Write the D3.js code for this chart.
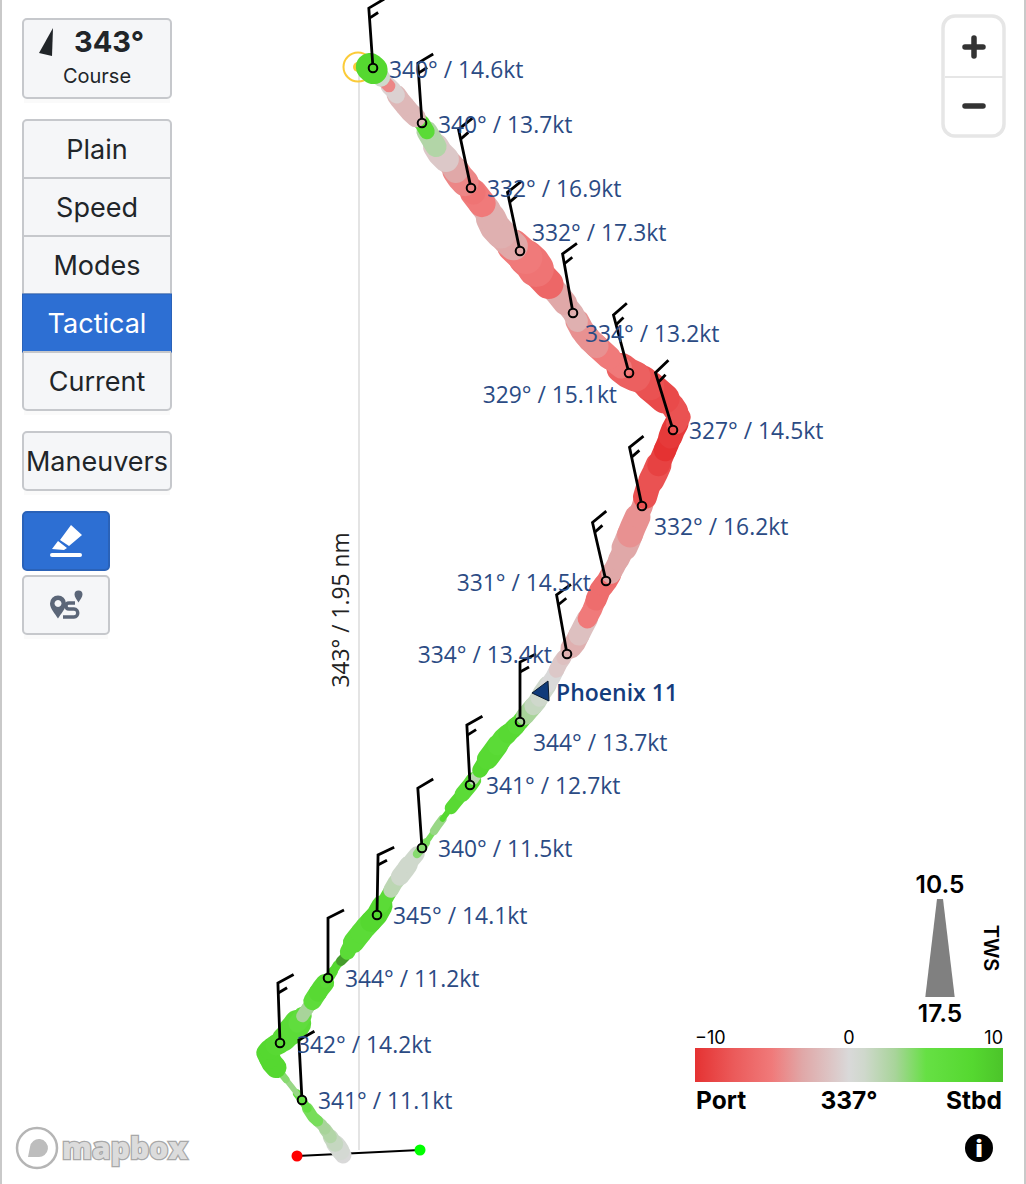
<![CDATA[<!DOCTYPE html>
<html><head><meta charset="utf-8">
<script src="https://cdnjs.cloudflare.com/ajax/libs/d3/7.8.5/d3.min.js"></script>
<style>html,body{margin:0;padding:0;background:#fff}svg{display:block}</style>
</head><body><svg id="c" width="1026" height="1184"></svg>
<script>
// Track samples in time order (start line to mark). east/north in map units from the line.
const trackEast=[-16,-21,-26,-31,-37,-46,-57,-67,-79,-87,-92,-87,-79,-71,-64,-59,-54,-49,-44,-38,-30,-22,-14,-9,-2,6,18,28,36,46,53,63,71,79,88,96,111,118,124,133,144,153,161,171,178,183,194,201,208,216,224,233,241,248,256,263,268,274,283,289,296,303,309,314,321,313,298,284,269,256,244,231,223,214,198,181,173,161,148,136,128,118,111,101,93,81,73,63,51,41,34,26,18,11];
const trackNorth=[-5,3,9,17,25,33,50,63,78,87,97,103,107,115,123,130,138,145,153,162,172,185,193,203,212,222,235,253,267,280,290,302,313,325,337,347,365,375,385,397,412,420,428,440,448,457,473,487,497,507,523,540,560,569,583,597,608,623,643,663,677,693,707,720,733,745,758,770,777,787,798,810,820,837,857,875,887,898,910,923,940,953,962,973,985,997,1010,1027,1038,1050,1060,1068,1077,1083];
const trackTws=[12.6,12.9,12.3,11.7,11.4,11.4,10.8,10.2,10.5,13.5,13.5,13.2,13.5,14.1,14.8,12.9,11.7,11.7,12.9,12.9,11.1,10.8,11.1,12.3,13.5,13.5,13.5,12.0,12.3,12.9,12.3,10.8,10.2,10.8,10.2,11.7,12.3,11.1,12.3,13.5,13.2,12.9,12.6,12.9,12.9,12.9,12.3,12.3,12.0,13.5,13.5,13.2,13.5,13.5,13.2,13.5,14.5,14.5,13.5,14.1,14.5,13.8,13.8,14.1,13.5,14.1,15.4,15.1,15.4,13.5,14.1,14.1,14.1,13.5,14.1,15.4,16.6,16.0,15.1,15.4,14.8,14.8,14.1,14.8,14.1,14.5,13.5,12.3,13.2,13.2,12.6,11.7,12.9,15.0];
const trackOffset=[0,0.5,1.5,2.5,3,4.5,5.5,3.5,4,8,8,8,7.5,7,7,6,3,3,6.5,7.5,7,8,13,7,7,7,8,7,2,1,1,4,4.5,3.5,8,7.5,7,2,8,7.5,7,7.5,7,3,1.5,1,0,-1,-1.5,-2.5,-1.5,-5,-6,-6,-3,-3,-3,-4,-4,-8,-8,-9,-10,-9.5,-8,-8,-8.5,-8,-7,-5,-5,-4,-4,-2.5,-3,-6.5,-5.5,-5,-3,-2.5,-2.5,-5,-5.5,-4.5,-3,-1,2.5,7,-2,-2,-0.5,-4.5,1,8];
// Wind nodes
const nodeEast=[-57,-79,-31,18,63,111,161,208,247,283,314,270,214,161,112,63,14];
const nodeNorth=[50,107,172,235,302,365,428,496,569,644,720,777,837,899,962,1027,1082];
const nodeDeg=[341,342,344,345,340,341,344,334,331,332,327,329,334,332,332,340,340];
const nodeKt=[11.1,14.2,11.2,14.1,11.5,12.7,13.7,13.4,14.5,16.2,14.5,15.1,13.2,17.3,16.9,13.7,14.6];
// Legend and UI texts
const twsRange=[10.5,17.5];
const offsetTicks=[-10,0,10];
const offsetStops=[-10,-7.5,-5,-3,-1,0,1,3,5,8,10,14];
const offsetColors=["#e53232","#eb5a5a","#f07a7a","#e0a8a8","#dcc8c8","#d9d9d9","#cfd8cc","#a8d49a","#66e044","#55d830","#4cc42a","#428f2c"];
const modeNames=["Plain","Speed","Modes","Tactical","Current"];
const activeMode="Tactical";

// layout tables
const labelPlace=[[16,1,"start"],[17,2,"start"],[17,1,"start"],[16,1,"start"],[16,1,"start"],[16,1,"start"],[13,21,"start"],[-15,1,"end"],[-15,2,"end"],[12,21,"start"],[16,1,"start"],[-12,22,"end"],[12,21,"start"],[12,-18,"start"],[16,1,"start"],[16,2,"start"],[16,2,"start"]];

const svg=d3.select("#c");
const W=1026,H=1184;
const x=d3.scaleLinear().domain([-359,667]).range([0,W]);
const y=d3.scaleLinear().domain([-34,1150]).range([H,0]);
const color=d3.scaleLinear().domain(offsetStops).range(offsetColors).clamp(true);
const rad=d3.scaleLinear().domain(twsRange).range([3.5,20]);
const ui='Inter,"Noto Sans",sans-serif', lab='"Open Sans","Noto Sans",sans-serif';

svg.append("rect").attr("width",W).attr("height",H).attr("fill","#fff");
svg.append("rect").attr("x",0).attr("width",2).attr("height",H).attr("fill","#c9c9c9");
svg.append("rect").attr("x",1024).attr("width",2).attr("height",H).attr("fill","#c9c9c9");

// rhumb line and label
svg.append("line").attr("x1",x(0)).attr("x2",x(0)).attr("y1",y(1083)).attr("y2",y(0)).attr("stroke","#e4e4e4").attr("stroke-width",2);
svg.append("text").attr("transform",`translate(${x(0)-10},${y(540)}) rotate(-90)`).attr("text-anchor","middle")
  .attr("font-family",lab).attr("font-size",22.8).attr("fill","#222").text("343° / 1.95 nm");
// mark
svg.append("circle").attr("cx",x(-1)).attr("cy",y(1083)).attr("r",14.5).attr("fill","none").attr("stroke","#fbcb38").attr("stroke-width",2);
svg.append("circle").attr("cx",x(-1)).attr("cy",y(1083)).attr("r",5).attr("fill","#fbcb38");
// start line
svg.append("line").attr("x1",x(-62)).attr("y1",y(-6)).attr("x2",x(61)).attr("y2",y(0)).attr("stroke","#000").attr("stroke-width",2);
svg.append("circle").attr("cx",x(-62)).attr("cy",y(-6)).attr("r",5.5).attr("fill","#f00");
svg.append("circle").attr("cx",x(61)).attr("cy",y(0)).attr("r",5.5).attr("fill","#0f0");

// track: each sample paints the band between its midpoints with its neighbours
const pts=trackEast.map((e,i)=>({e,n:trackNorth[i],t:trackTws[i],o:trackOffset[i]}));
const last=pts.length-1;
const gT=svg.append("g").attr("stroke-linecap","round").attr("fill","none");
gT.selectAll("path").data(pts).join("path")
  .attr("d",(d,i)=>{
    const a=pts[Math.max(i-1,0)],b=pts[Math.min(i+1,last)];
    return `M${x((a.e+d.e)/2)},${y((a.n+d.n)/2)}L${x(d.e)},${y(d.n)}L${x((b.e+d.e)/2)},${y((b.n+d.n)/2)}`;
  })
  .attr("stroke",d=>color(d.o))
  .attr("stroke-linejoin","round")
  .attr("stroke-width",d=>rad(d.t)*2);

// boat
svg.append("path").attr("d",`M${x(173)},${y(457)}L${x(189)},${y(469)}L${x(190)},${y(449)}Z`)
  .attr("fill","#0f3a7a").attr("stroke","#0a1a30").attr("stroke-width",1);
svg.append("text").attr("x",556).attr("y",701).attr("font-family",lab).attr("font-weight",600).attr("font-size",23).attr("fill","#143c7c").text("Phoenix 11");

// barbs
const nodes=nodeEast.map((e,i)=>({e,n:nodeNorth[i],deg:nodeDeg[i],kt:nodeKt[i],p:labelPlace[i]}));
const gN=svg.append("g").selectAll("g").data(nodes).join("g")
  .attr("transform",d=>`translate(${x(d.e)},${y(d.n)})`);
const gB=gN.append("g").attr("transform",d=>`rotate(${d.deg-344})`).attr("fill","none").attr("stroke","#000").attr("stroke-width",2.8);
gB.append("path").attr("d","M0,-4L0,-60L16,-68");
gB.filter(d=>d.kt>=12.5).append("path").attr("d","M0,-50L9,-55");
gN.append("circle").attr("r",4.3).attr("fill","none").attr("stroke","#000").attr("stroke-width",2);
gN.append("text").attr("x",d=>d.p[0]).attr("y",d=>d.p[1]+8).attr("text-anchor",d=>d.p[2])
  .attr("font-family",lab).attr("font-size",22.8).attr("fill","#2b4b84").text(d=>`${d.deg}° / ${d.kt.toFixed(1)}kt`);

// buttons
function btn(xx,yy,w,h,r,fill,st){
  return svg.append("rect").attr("x",xx).attr("y",yy).attr("width",w).attr("height",h).attr("rx",r)
    .attr("fill",fill).attr("stroke",st).attr("stroke-width",2);
}
function shadow(xx,yy,w){svg.append("rect").attr("x",xx+1).attr("y",yy).attr("width",w-2).attr("height",5).attr("fill","#fafafa");}
const bf="#f5f6f8",bs="#c6c8cc",blue="#2d6fd3",bd="#2a62b8";
shadow(23,98,148);btn(23,19,148,79,4,bf,bs);
svg.append("path").attr("d","M39,53L53,28L52,56Z").attr("fill","#212529");
svg.append("text").attr("x",109).attr("y",52).attr("text-anchor","middle").attr("font-family",ui).attr("font-weight",700).attr("font-size",29).attr("fill","#212529").text("343°");
svg.append("text").attr("x",97).attr("y",83).attr("text-anchor","middle").attr("font-family",ui).attr("font-size",20).attr("fill","#212529").text("Course");

shadow(23,410,148);btn(23,120,148,290,4,bf,bs);
const gM=svg.append("g").selectAll("g").data(modeNames).join("g").attr("transform",(d,i)=>`translate(23,${120+58*i})`);
gM.filter((d,i)=>i>0).append("line").attr("x2",148).attr("stroke",bs).attr("stroke-width",2);
gM.filter(d=>d===activeMode).append("rect").attr("width",149).attr("height",58).attr("x",-0.5).attr("fill",blue).attr("stroke",bd).attr("stroke-width",1);
gM.append("text").attr("x",74).attr("y",39).attr("text-anchor","middle").attr("font-family",ui).attr("font-size",27)
  .attr("fill",d=>d===activeMode?"#fff":"#212529").text(d=>d);

shadow(23,490,148);btn(23,432,148,58,4,bf,bs);
svg.append("text").attr("x",97).attr("y",471).attr("text-anchor","middle").attr("font-family",ui).attr("font-size",27).attr("fill","#212529").text("Maneuvers");

btn(23,512,86,58,4,blue,bd);
svg.append("path").attr("d","M60,540L71,525L82,535L69,546Z M52,549L58,541L67,548L64,550Z").attr("fill","#fff");
svg.append("rect").attr("x",50).attr("y",553).attr("width",32).attr("height",4).attr("rx",2).attr("fill","#fff");
shadow(23,634,86);btn(23,576,86,58,4,bf,bs);
svg.append("path").attr("fill","#5b6678").attr("fill-rule","evenodd").attr("d","M50,603.5a8,8 0 0 1 16,0c0,5 -5,10 -8,15c-3,-5 -8,-10 -8,-15Z M58,600a3.5,3.5 0 1 0 .01,0Z");
svg.append("path").attr("d","M74.5,594.5a4,4 0 0 1 8,0c0,3 -2.5,5 -4,8c-1.5,-3 -4,-5 -4,-8Z").attr("fill","#5b6678");
svg.append("path").attr("d","M75,603H69c-4,0 -4,6 0,6h5c5,0 5,8 0,8H63").attr("fill","none").attr("stroke","#5b6678").attr("stroke-width",3.4);

// zoom control
svg.append("rect").attr("x",943).attr("y",16).attr("width",61).attr("height",120).attr("rx",12).attr("fill","#fff").attr("stroke","#e6e6e6").attr("stroke-width",3.5);
svg.append("line").attr("x1",945).attr("x2",1003).attr("y1",77).attr("y2",77).attr("stroke","#e6e6e6").attr("stroke-width",2);
svg.append("path").attr("d","M965,47H983M974,38V56M965,106H983").attr("stroke","#333").attr("stroke-width",5.5).attr("stroke-linecap","round");

// legends
const txt=(s,xx,yy,a,w,fs,f)=>svg.append("text").attr("x",xx).attr("y",yy).attr("text-anchor",a).attr("font-family",ui).attr("font-weight",w).attr("font-size",fs).attr("fill",f||"#000").text(s);
const wedgeY=d3.scaleLinear().domain(twsRange).range([899,997]);
const wedgeW=d3.scaleLinear().domain(twsRange).range([3,14.7]);
svg.append("path").attr("d",d3.area().x0(d=>940-wedgeW(d)).x1(d=>940+wedgeW(d)).y(d=>wedgeY(d))(twsRange)).attr("fill","#808080");
txt(twsRange[0].toFixed(1),940,893,"middle",600,24.5);
txt(twsRange[1].toFixed(1),940,1022,"middle",600,24.5);
svg.append("text").attr("transform","translate(984,948) rotate(90)").attr("text-anchor","middle").attr("font-family",ui).attr("font-weight",600).attr("font-size",20).text("TWS");

const bar=d3.scaleLinear().domain([-10,10]).range([695,1003]);
const grad=svg.append("defs").append("linearGradient").attr("id","gr");
grad.selectAll("stop").data(offsetStops.filter(v=>v<=10)).join("stop").attr("offset",d=>(d+10)/20).attr("stop-color",d=>color(d));
svg.append("rect").attr("x",bar(-10)).attr("y",1048).attr("width",bar(10)-bar(-10)).attr("height",34).attr("fill","url(#gr)");
svg.append("g").selectAll("text").data(offsetTicks).join("text").attr("x",d=>bar(d)).attr("y",1044)
  .attr("text-anchor",(d,i)=>["start","middle","end"][i]).attr("font-family",ui).attr("font-size",18).text(d=>d===-10?"−10":d);
txt("Port",696,1109,"start",700,24.5);
txt("337°",bar(0),1109,"middle",700,24.5);
txt("Stbd",1002,1109,"end",700,24.5);

svg.append("circle").attr("cx",979).attr("cy",1148).attr("r",14).attr("fill","#000");
txt("i",979,1157,"middle",900,24,"#fff");

// mapbox logo
const gL=svg.append("g");
gL.append("circle").attr("cx",37).attr("cy",1148).attr("r",20).attr("fill","#fff").attr("stroke","#b5b5b5").attr("stroke-width",2.5);
gL.append("path").attr("d","M28,1157l2,-10a9,9 0 1 1 8,10Z").attr("fill","#bdbdbd");
gL.append("text").attr("x",62).attr("y",1159).attr("font-family",'"Open Sans",sans-serif').attr("font-weight",800).attr("font-size",30)
  .attr("fill","#dcdcdc").attr("stroke","#a8a8a8").attr("stroke-width",2.6).attr("paint-order","stroke").text("mapbox");
</script></body></html>]]>
